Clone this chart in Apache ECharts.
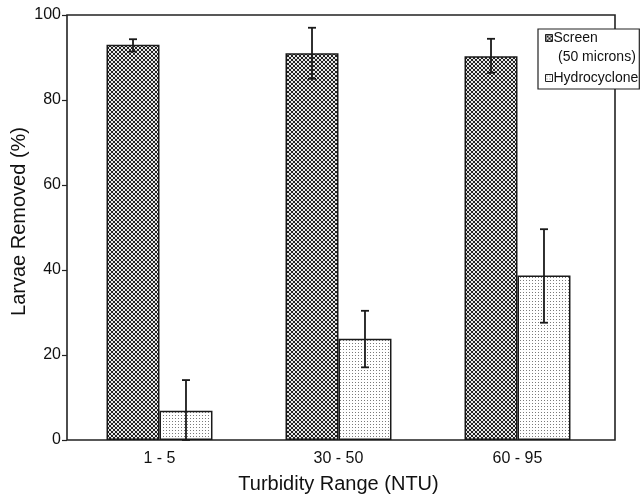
<!DOCTYPE html>
<html>
<head>
<meta charset="utf-8">
<script src="https://cdn.jsdelivr.net/npm/echarts@6/dist/echarts.min.js"></script>
<style>
html, body { margin: 0; padding: 0; background: #fff; }
#chart { width: 641px; height: 498px; }
</style>
</head>
<body>
<div id="chart"></div>
<script>
// data
var categories = ['1 - 5', '30 - 50', '60 - 95'];
var screenMean = [93.0, 91.0, 90.3];
var screenLow = [91.4, 85.0, 86.4];
var screenHigh = [94.3, 97.0, 94.4];
var hydroMean = [6.9, 23.8, 38.7];
var hydroLow = [0, 17.1, 27.6];
var hydroHigh = [14.1, 30.4, 49.6];

// fill patterns (cross-hatch for screen, fine dots for hydrocyclone)
function makePattern(kind) {
  var c = document.createElement('canvas');
  var ctx = c.getContext('2d');
  if (kind === 'cross') {
    c.width = 4; c.height = 4;
    ctx.fillStyle = '#e8e8e8';
    ctx.fillRect(0, 0, 4, 4);
    ctx.fillStyle = '#222';
    var px = [[0,0],[1,1],[2,2],[3,3],[0,3],[1,2],[2,1],[3,0]];
    px.forEach(function (p) { ctx.fillRect(p[0], p[1], 1, 1); });
  } else {
    c.width = 3; c.height = 3;
    ctx.fillStyle = '#fff';
    ctx.fillRect(0, 0, 3, 3);
    ctx.fillStyle = '#7a7a7a';
    ctx.fillRect(1, 1, 1, 1);
  }
  return { image: c, repeat: 'repeat' };
}
var crossFill = makePattern('cross');
var dotFill = makePattern('dot');

function errData(low, high) {
  return categories.map(function (c, i) { return [i, low[i], high[i]]; });
}

// error bars drawn at a bar offset inside each category
function errRender(offsetFrac) {
  return function (params, api) {
    var idx = api.value(0);
    var lo = api.coord([idx, api.value(1)]);
    var hi = api.coord([idx, api.value(2)]);
    var bandW = api.size([1, 0])[0];
    var x = lo[0] + bandW * offsetFrac;
    var cap = 4;
    var st = { stroke: '#1a1a1a', lineWidth: 1.8 };
    return {
      type: 'group',
      children: [
        { type: 'line', shape: { x1: x, y1: hi[1], x2: x, y2: lo[1] }, style: st },
        { type: 'line', shape: { x1: x - cap, y1: hi[1], x2: x + cap, y2: hi[1] }, style: st },
        { type: 'line', shape: { x1: x - cap, y1: lo[1], x2: x + cap, y2: lo[1] }, style: st }
      ]
    };
  };
}

var myChart = echarts.init(document.getElementById('chart'));
var barFrac = 0.296; // bar width as fraction of category band
var font = 'Liberation Sans, Arial, sans-serif';

var option = {
  backgroundColor: '#fff',
  animation: false,
  textStyle: { fontFamily: font, color: '#111' },
  grid: [
    // plotting grid
    { left: 70, right: 34, top: 15, bottom: 58, outerBoundsMode: 'none' },
    // outer frame
    { left: 67, right: 26, top: 15, bottom: 58, outerBoundsMode: 'none',
      show: true, borderColor: '#222', borderWidth: 1.6, backgroundColor: 'transparent' }
  ],
  legend: {
    orient: 'vertical',
    left: 538, top: 29,
    padding: [1, 1, 3, 7],
    itemGap: 24,
    itemWidth: 7, itemHeight: 7,
    backgroundColor: '#fff',
    borderColor: '#222', borderWidth: 1.2,
    borderRadius: 0,
    icon: 'rect',
    z: 10,
    textStyle: { fontSize: 14, color: '#111', padding: [0, 0, 0, -4], lineHeight: 16 },
    formatter: function (name) {
      return name === 'Screen (50 microns)' ? 'Screen' : name;
    },
    data: [
      { name: 'Screen (50 microns)', itemStyle: { color: crossFill, borderColor: '#222', borderWidth: 1 } },
      { name: 'Hydrocyclone', itemStyle: { color: dotFill, borderColor: '#222', borderWidth: 1 } }
    ]
  },
  graphic: [
    { type: 'text', left: 558, top: 50, z: 30,
      style: { text: '(50 microns)', font: '14px ' + font, fill: '#111' } }
  ],
  xAxis: [
    {
      type: 'category',
      gridIndex: 0,
      data: categories,
      name: 'Turbidity Range (NTU)',
      nameLocation: 'middle',
      nameGap: 34,
      nameMoveOverlap: false,
      nameTextStyle: { fontSize: 20, color: '#111' },
      axisLine: { show: false },
      axisTick: { show: false },
      axisLabel: { fontSize: 16, color: '#111', margin: 11 }
    },
    { type: 'value', gridIndex: 1, show: false }
  ],
  yAxis: [
    {
      type: 'value',
      gridIndex: 0,
      offset: 3,
      min: 0, max: 100, interval: 20,
      name: 'Larvae Removed (%)',
      nameLocation: 'middle',
      nameGap: 38,
      nameMoveOverlap: false,
      nameTextStyle: { fontSize: 20, color: '#111', padding: [0, 0, 0, 12] },
      axisLine: { show: false },
      axisTick: { show: true, length: 5, lineStyle: { color: '#222', width: 1.2 } },
      axisLabel: { fontSize: 16, color: '#111', margin: 6 },
      splitLine: { show: false }
    },
    { type: 'value', gridIndex: 1, show: false }
  ],
  series: [
    {
      name: 'Screen (50 microns)',
      type: 'bar',
      data: screenMean,
      barWidth: '29.6%',
      barGap: '0%',
      itemStyle: { color: crossFill, borderColor: '#1a1a1a', borderWidth: 1.5 }
    },
    {
      name: 'Hydrocyclone',
      type: 'bar',
      data: hydroMean,
      barWidth: '29.6%',
      barGap: '0%',
      itemStyle: { color: dotFill, borderColor: '#1a1a1a', borderWidth: 1.5 }
    },
    {
      name: 'screenErr',
      type: 'custom',
      renderItem: errRender(-barFrac / 2),
      data: errData(screenLow, screenHigh),
      encode: { x: 0, y: [1, 2] },
      z: 5
    },
    {
      name: 'hydroErr',
      type: 'custom',
      renderItem: errRender(barFrac / 2),
      data: errData(hydroLow, hydroHigh),
      encode: { x: 0, y: [1, 2] },
      z: 5
    }
  ]
};
myChart.setOption(option);
</script>
</body>
</html>
